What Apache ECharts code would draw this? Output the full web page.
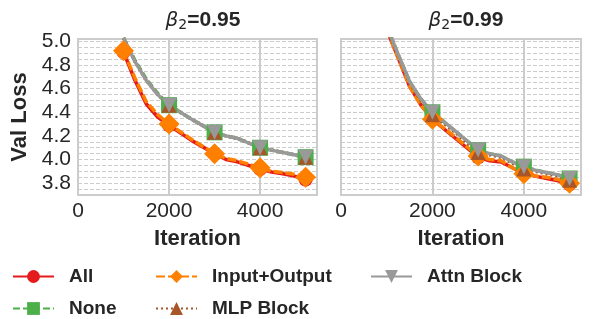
<!DOCTYPE html>
<html>
<head>
<meta charset="utf-8">
<script src="https://cdn.jsdelivr.net/npm/echarts@6/dist/echarts.min.js"></script>
<style>
  html, body { margin: 0; padding: 0; background: #fff; }
  #chart { width: 606px; height: 319px; }
</style>
</head>
<body>
<div id="chart"></div>
<script>
// iterations (markers only on the multiples of 1000)
const iters = [1000, 1250, 1500, 1750, 2000, 2500, 3000, 3250, 3500, 3750, 4000, 4250, 4500, 4750, 5000]

// beta2 = 0.95
const all95 = [4.91, 4.67, 4.47, 4.36, 4.29, 4.16, 4.05, 4.00, 3.98, 3.95, 3.92, 3.895, 3.88, 3.86, 3.83]
const none95 = [5.03, 4.84, 4.68, 4.56, 4.46, 4.34, 4.23, 4.20, 4.18, 4.14, 4.10, 4.08, 4.06, 4.04, 4.02]
const io95 = [4.92, 4.69, 4.49, 4.38, 4.30, 4.17, 4.05, 4.01, 3.99, 3.96, 3.93, 3.90, 3.89, 3.875, 3.85]
const mlp95 = [5.03, 4.83, 4.67, 4.55, 4.46, 4.34, 4.23, 4.20, 4.18, 4.14, 4.10, 4.08, 4.06, 4.04, 4.02]
const attn95 = [5.03, 4.83, 4.67, 4.55, 4.46, 4.34, 4.23, 4.20, 4.18, 4.14, 4.10, 4.08, 4.06, 4.04, 4.02]

// beta2 = 0.99
const all99 = [5.10, 4.86, 4.62, 4.46, 4.34, 4.18, 4.02, 3.99, 3.98, 3.93, 3.88, 3.86, 3.84, 3.82, 3.79]
const none99 = [5.13, 4.89, 4.66, 4.51, 4.40, 4.24, 4.08, 4.05, 4.03, 3.98, 3.94, 3.91, 3.89, 3.87, 3.84]
const io99 = [5.10, 4.86, 4.62, 4.46, 4.34, 4.19, 4.03, 4.00, 3.99, 3.93, 3.88, 3.86, 3.85, 3.83, 3.80]
const mlp99 = [5.12, 4.88, 4.65, 4.50, 4.38, 4.23, 4.06, 4.04, 4.02, 3.97, 3.92, 3.90, 3.88, 3.86, 3.825]
const attn99 = [5.13, 4.89, 4.66, 4.51, 4.40, 4.24, 4.08, 4.05, 4.03, 3.98, 3.94, 3.91, 3.89, 3.87, 3.84]

const xTicks = [0, 2000, 4000]
const yTicks = [3.8, 4.0, 4.2, 4.4, 4.6, 4.8, 5.0]

const FONT = '"Liberation Sans", Arial, sans-serif'
const TXT = '#262626'
const GRIDC = '#cccccc'

const styles = [
  { name: 'All', color: '#e41a1c', symbol: 'circle', size: 14, dash: 'solid', rot: 0 },
  { name: 'None', color: '#4daf4a', symbol: 'rect', size: 16, dash: [7, 3], rot: 0 },
  { name: 'Input+Output', color: '#ff7f00', symbol: 'diamond', size: 21, dash: [9, 3], rot: 0 },
  { name: 'MLP Block', color: '#a65628', symbol: 'triangle', size: 15, dash: [2, 3], rot: 0 },
  { name: 'Attn Block', color: '#999999', symbol: 'triangle', size: 15, dash: 'solid', rot: 180 }
]
const panels = [
  [all95, none95, io95, mlp95, attn95],
  [all99, none99, io99, mlp99, attn99]
]

const series = []
panels.forEach((sets, p) => {
  sets.forEach((vals, i) => {
    const s = styles[i]
    series.push({
      name: s.name,
      type: 'line',
      xAxisIndex: p,
      yAxisIndex: p,
      data: iters.map((x, k) => [x, vals[k]]),
      symbol: s.symbol,
      symbolRotate: s.rot,
      symbolSize: function (v) { return v[0] % 1000 === 0 ? s.size : 0 },
      showSymbol: true,
      clip: true,
      lineStyle: { color: s.color, width: 3.5, type: s.dash },
      itemStyle: { color: s.color },
      emphasis: { disabled: true }
    })
  })
})

function xAxis (idx) {
  return {
    type: 'value',
    gridIndex: idx,
    min: 0,
    max: 5250,
    interval: 2000,
    name: 'Iteration',
    nameLocation: 'middle',
    nameGap: 33,
    nameTextStyle: { fontFamily: FONT, fontSize: 22, fontWeight: 'bold', color: TXT },
    axisLine: { show: false },
    axisTick: { show: false },
    axisLabel: {
      fontFamily: FONT, fontSize: 21, color: TXT, margin: 6, showMaxLabel: false,
      formatter: v => xTicks.indexOf(v) >= 0 ? String(v) : ''
    },
    splitLine: { show: true, lineStyle: { color: GRIDC, width: 2 } }
  }
}

function yAxis (idx) {
  return {
    type: 'value',
    gridIndex: idx,
    min: 3.7,
    max: 5.02,
    interval: 0.05,
    name: idx === 0 ? 'Val Loss' : '',
    nameLocation: 'middle',
    nameGap: 47,
    nameTextStyle: { fontFamily: FONT, fontSize: 22, fontWeight: 'bold', color: TXT },
    axisLine: { show: false },
    axisTick: { show: false },
    axisLabel: {
      show: idx === 0,
      fontFamily: FONT, fontSize: 21, color: TXT, margin: 7,
      formatter: function (v) {
        const hit = yTicks.find(t => Math.abs(t - v) < 1e-6)
        return hit !== undefined ? hit.toFixed(1) : ''
      }
    },
    splitLine: { show: true, lineStyle: { color: GRIDC, width: 1, type: [4, 2] } }
  }
}

function title (text, cx) {
  return {
    text: text,
    left: cx,
    top: 4,
    textAlign: 'center',
    textStyle: {
      rich: {
        b: { fontFamily: 'DejaVu Sans', fontStyle: 'italic', fontWeight: 'normal', fontSize: 20, color: TXT },
        s: { fontFamily: 'DejaVu Sans', fontWeight: 'normal', fontSize: 14, color: TXT, padding: [9, 0, 0, 0] },
        n: { fontFamily: FONT, fontWeight: 'bold', fontSize: 21, color: TXT }
      }
    }
  }
}

// one legend per entry, laid out as matplotlib's 3-column legend
function legend (name, left, top) {
  return {
    data: [name],
    left: left,
    top: top,
    padding: 0,
    itemWidth: 41,
    itemHeight: 16,
    textStyle: { fontFamily: FONT, fontSize: 19, lineHeight: 16, fontWeight: 'bold', color: TXT, padding: [0, 0, 0, 10] }
  }
}

const chart = echarts.init(document.getElementById('chart'))
chart.setOption({
  animation: false,
  backgroundColor: '#fff',
  title: [title('{b|β}{s|2}{n|=0.95}', 198), title('{b|β}{s|2}{n|=0.99}', 461)],
  legend: [
    legend('All', 12, 267),
    legend('None', 12, 299),
    legend('Input+Output', 155, 267),
    legend('MLP Block', 155, 299),
    legend('Attn Block', 370, 267)
  ],
  grid: [
    { left: 78, top: 39, width: 239, height: 156, show: true, borderColor: GRIDC, borderWidth: 2, backgroundColor: 'transparent' },
    { left: 341, top: 39, width: 240, height: 156, show: true, borderColor: GRIDC, borderWidth: 2, backgroundColor: 'transparent' }
  ],
  xAxis: [xAxis(0), xAxis(1)],
  yAxis: [yAxis(0), yAxis(1)],
  series: series
})
</script>
</body>
</html>
